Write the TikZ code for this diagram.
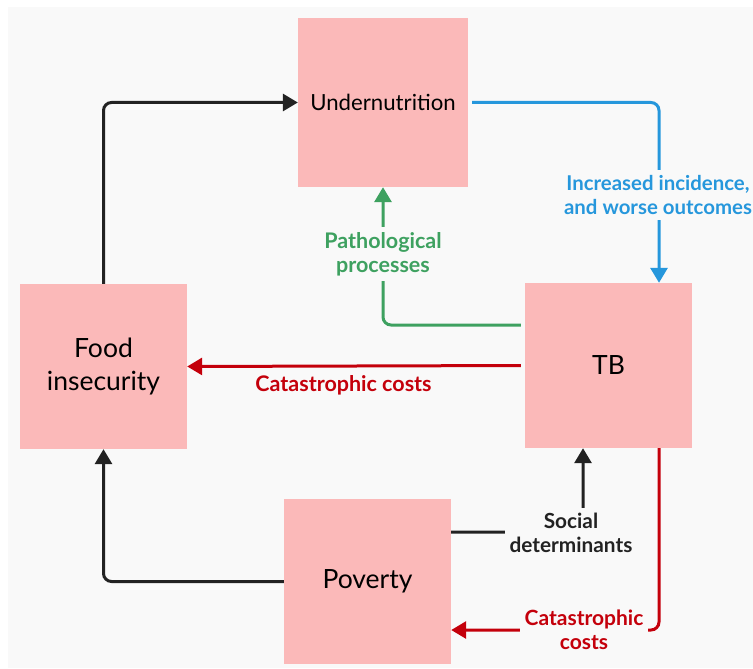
\documentclass[tikz,border=0pt]{standalone}
\usepackage{fontspec}
\setmainfont{Lato}
\usetikzlibrary{arrows.meta,calc}
\definecolor{bg}{HTML}{F9F9F9}
\definecolor{boxpink}{HTML}{FBB9B9}
\definecolor{cblue}{HTML}{2697DC}
\definecolor{cgreen}{HTML}{3EA160}
\definecolor{cred}{HTML}{C4000B}
\definecolor{cblack}{HTML}{222222}
\begin{document}
\begin{tikzpicture}[x=1pt,y=-1pt,
  box/.style={fill=boxpink, draw=none, inner sep=0pt, align=center, text=black,
    minimum width=167pt, minimum height=165pt, font=\fontsize{26.5}{33}\selectfont},
  conn/.style={line width=3pt, rounded corners=8pt, -{Triangle[length=15pt,width=17pt]}},
  lbl/.style={fill=bg, inner sep=5pt, align=center, font=\bfseries\fontsize{21.5}{24}\selectfont},
]
\useasboundingbox (0,0) rectangle (753,669);
\clip (0,0) rectangle (753,669);
\fill[white] (0,0) rectangle (753,669);
\fill[bg] (8,7) rectangle (760,668);

\node[box, minimum width=170pt, minimum height=169pt, font=\fontsize{22.2}{26}\selectfont] (under) at (383,102.5) {Undernutrition};
\node[box] (food) at (103.5,366.5) {Food\\insecurity};
\node[box] (tb) at (608.5,365.5) {TB};
\node[box] (pov) at (367.5,581.5) {Poverty};

% Food insecurity -> Undernutrition
\draw[conn, cblack] (food.north) |- (under.west);
% Undernutrition -> TB
\draw[conn, cblue, shorten <=4pt] (under.east) -| ($(tb.north)+(50.5,0)$);
\node[lbl, text=cblue, font=\bfseries\fontsize{20.4}{24}\selectfont] (lblue) at (658,195) {Increased incidence,\\and worse outcomes};
% TB -> Undernutrition
\draw[conn, cgreen, shorten <=4pt] ($(tb.west)+(0,-40.5)$) -| (under.south);
\node[lbl, text=cgreen] (lgreen) at (383,254) {Pathological\\processes};
% TB -> Food insecurity
\draw[conn, cred, shorten <=4pt] (tb.west) -- (food.east);
\node[lbl, text=cred] (lred1) at (343.5,385) {Catastrophic costs};
% Poverty -> Food insecurity
\draw[conn, cblack] (pov.west) -| (food.south);
% Poverty -> TB
\draw[conn, cblack] ($(pov.east)+(0,-49.5)$) -| ($(tb.south)+(-25.5,0)$);
\node[lbl, text=cblack, font=\bfseries\fontsize{20.8}{24}\selectfont] (lsoc) at (571,533) {Social\\determinants};
% TB -> Poverty
\draw[conn, cred] ($(tb.south)+(50.5,0)$) |- ($(pov.east)+(0,48.5)$);
\node[lbl, text=cred, font=\bfseries\fontsize{21}{24}\selectfont] (lred2) at (584,630) {Catastrophic\\costs};
\end{tikzpicture}
\end{document}
